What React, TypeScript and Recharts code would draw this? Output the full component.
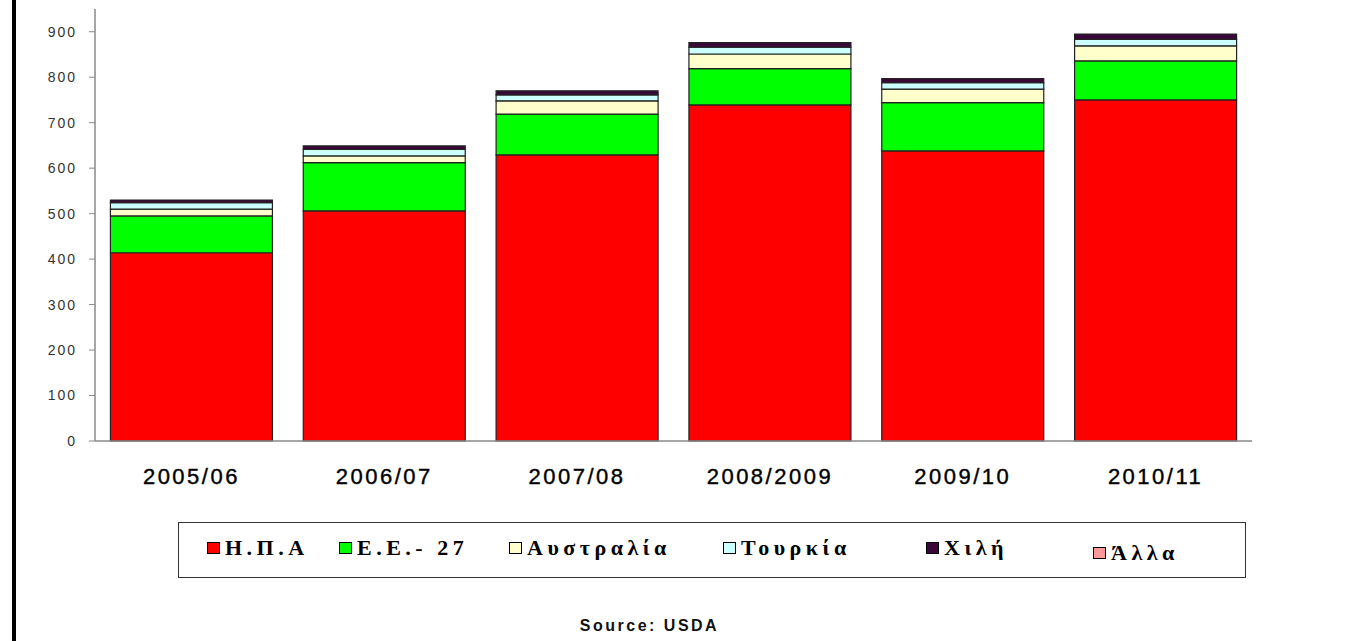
import { BarChart, Bar, XAxis, YAxis } from "recharts";

const seasons = ["2005/06", "2006/07", "2007/08", "2008/2009", "2009/10", "2010/11"];
const usa = [414, 506, 629, 739, 638, 750];
const eu27 = [81, 106, 90, 80, 106, 86];
const australia = [15, 15, 29, 32, 30, 33];
const turkey = [14, 14, 13, 15, 14, 14];
const chile = [6, 8, 9, 10, 9, 12];
const other = [0, 0, 0, 0, 0, 0];
const yTicks = [0, 100, 200, 300, 400, 500, 600, 700, 800, 900];

const series = [
  { key: "usa", name: "Η.Π.Α", values: usa, color: "#ff0000" },
  { key: "eu27", name: "Ε.Ε.- 27", values: eu27, color: "#00ff00" },
  { key: "australia", name: "Αυστραλία", values: australia, color: "#ffffcc" },
  { key: "turkey", name: "Τουρκία", values: turkey, color: "#ccffff" },
  { key: "chile", name: "Χιλή", values: chile, color: "#3a0838" },
  { key: "other", name: "Άλλα", values: other, color: "#ff9999" },
];

const data = seasons.map((season, i) => {
  const row: Record<string, string | number> = { season };
  series.forEach((s) => {
    row[s.key] = s.values[i];
  });
  return row;
});

// left edge of each legend entry inside the legend box
const legendOffsets = [28, 160, 330, 544, 747, 914];

const sans = "'Liberation Sans', Arial, sans-serif";

function ChartLegend() {
  return (
    <div
      style={{
        position: "absolute",
        left: 178,
        top: 522,
        width: 1066,
        height: 54,
        border: "1px solid #333",
        background: "#fff",
      }}
    >
      {series.map((s, i) => (
        <div
          key={s.key}
          style={{
            position: "absolute",
            left: legendOffsets[i],
            top: s.key === "other" ? 17 : 12,
            display: "flex",
            alignItems: "center",
            fontFamily: "'Liberation Serif', 'DejaVu Serif', serif",
            fontWeight: "bold",
            fontSize: 22,
            letterSpacing: 4.5,
            color: "#000",
            whiteSpace: "nowrap",
          }}
        >
          <span
            style={{
              display: "inline-block",
              width: 11,
              height: 10,
              background: s.color,
              border: "1px solid #000",
              marginRight: 5,
            }}
          />
          {s.name}
        </div>
      ))}
    </div>
  );
}

export default function App() {
  return (
    <div
      style={{
        position: "absolute",
        left: 0,
        top: 0,
        width: 1361,
        height: 641,
        background: "#fff",
        overflow: "hidden",
      }}
    >
      <div
        style={{
          position: "absolute",
          left: 12,
          top: 0,
          width: 4,
          height: 641,
          background: "#000",
        }}
      />
      <BarChart
        width={1361}
        height={641}
        data={data}
        margin={{ top: 9, right: 109, left: 0, bottom: 170 }}
        barCategoryGap="8%"
      >
        <XAxis
          dataKey="season"
          axisLine={{ stroke: "#888", strokeWidth: 1.5 }}
          tickLine={false}
          tickSize={0}
          tickMargin={27}
          height={30}
          tick={{ fill: "#000", fontSize: 22, fontFamily: sans, letterSpacing: 2.5, stroke: "#000", strokeWidth: 0.4 }}
        />
        <YAxis
          yAxisId="left"
          domain={[0, 950]}
          ticks={yTicks}
          width={95}
          tickSize={6}
          tickMargin={12}
          axisLine={{ stroke: "#888", strokeWidth: 1.5 }}
          tickLine={{ stroke: "#888" }}
          tick={{ fill: "#333", fontSize: 14, fontFamily: sans, letterSpacing: 2 }}
        />
        <YAxis
          yAxisId="right"
          orientation="right"
          width={0}
          tick={false}
          tickLine={false}
          axisLine={{ stroke: "#aaa", strokeWidth: 1.5 }}
        />
        {series.map((s) => (
          <Bar
            key={s.key}
            yAxisId="left"
            dataKey={s.key}
            name={s.name}
            stackId="a"
            fill={s.color}
            stroke="#222"
            strokeWidth={1.2}
            isAnimationActive={false}
          />
        ))}
      </BarChart>
      <ChartLegend />
      <div
        style={{
          position: "absolute",
          left: 0,
          width: 1299,
          top: 617,
          textAlign: "center",
          fontFamily: sans,
          fontWeight: "bold",
          fontSize: 16,
          letterSpacing: 2.5,
          color: "#111",
        }}
      >
        Source: USDA
      </div>
    </div>
  );
}
